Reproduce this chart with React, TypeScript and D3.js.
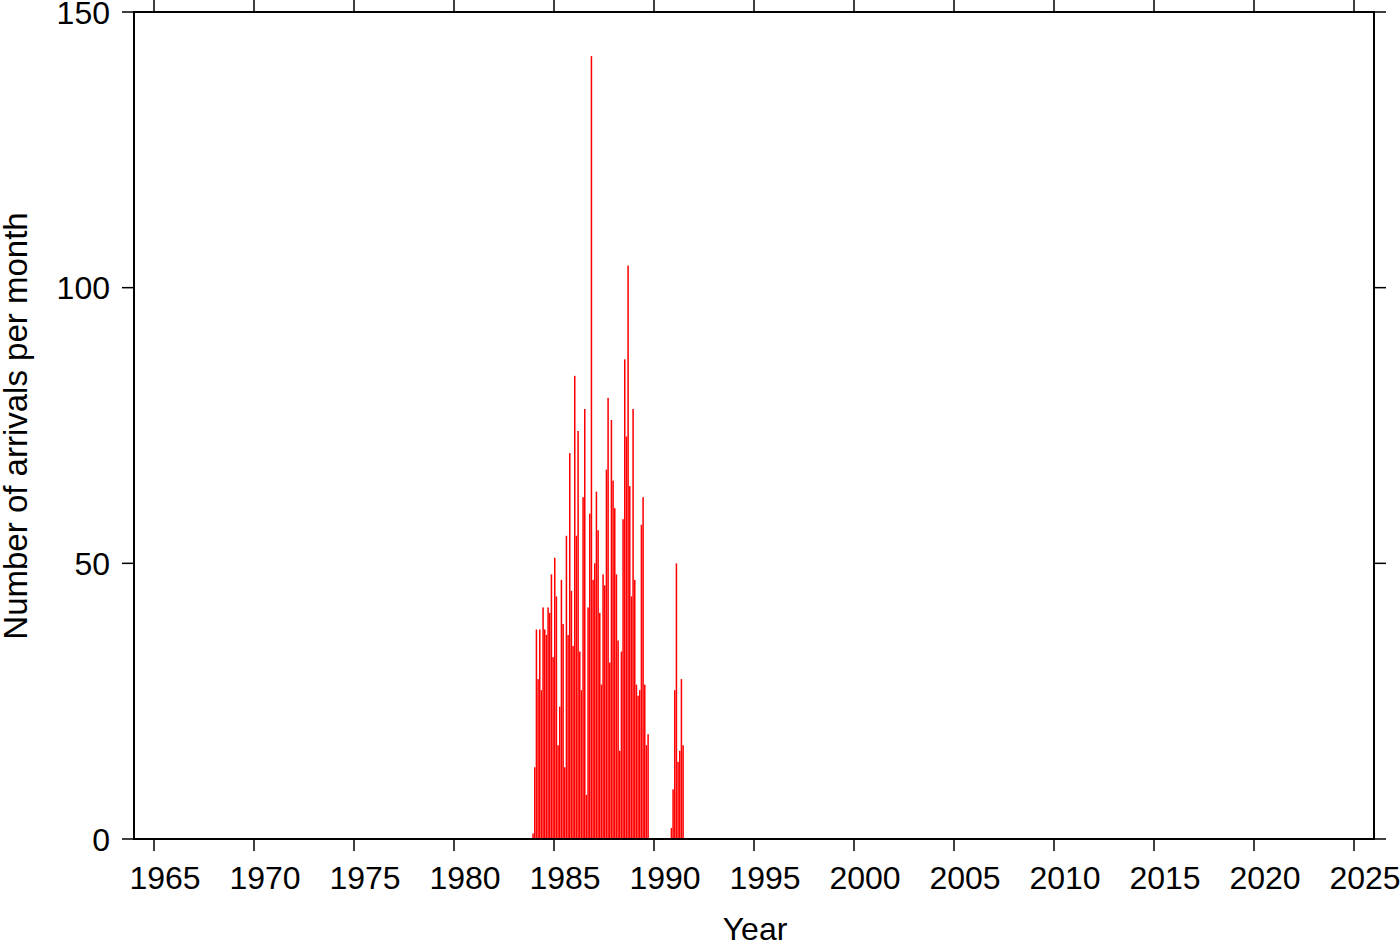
import React, { useEffect } from "react";
import * as d3 from "d3";

// Monthly arrivals, first cluster starting December 1983
const cluster1Start: [number, number] = [1983, 12];
const cluster1Values: number[] = [
  1,
  13, 38, 29, 38, 27, 42, 38, 37, 42, 41, 48, 33,
  51, 44, 17, 24, 47, 39, 13, 55, 37, 70, 45, 35,
  84, 55, 74, 34, 27, 62, 78, 8, 42, 59, 142, 47,
  50, 63, 56, 41, 28, 48, 46, 67, 80, 32, 76, 65,
  60, 48, 36, 16, 34, 58, 87, 73, 104, 64, 44, 78,
  47, 28, 26, 27, 57, 62, 28, 17, 19,
];
// Second cluster starting November 1990
const cluster2Start: [number, number] = [1990, 11];
const cluster2Values: number[] = [2, 9, 27, 50, 14, 16, 29, 17];

const xTicks: number[] = [1965, 1970, 1975, 1980, 1985, 1990, 1995, 2000, 2005, 2010, 2015, 2020, 2025];
const yTicks: number[] = [0, 50, 100, 150];
const xDomain: [number, number] = [1964, 2026];
const yDomain: [number, number] = [0, 150];

const W = 1400;
const H = 942;
const M = { left: 134, right: 1374, top: 12, bottom: 839 };
const FONT = "'Liberation Sans', Arial, Helvetica, sans-serif";

type Bar = { t: number; v: number };

function expand(start: [number, number], vals: number[]): Bar[] {
  return vals.map((v, i) => ({ t: start[0] + (start[1] - 1 + i) / 12, v }));
}

export default function App() {
  useEffect(() => {
    document.body.style.margin = "0";
    document.body.style.overflow = "hidden";
  }, []);

  const x = d3.scaleLinear().domain(xDomain).range([M.left, M.right]);
  const y = d3.scaleLinear().domain(yDomain).range([M.bottom, M.top]);
  const bars = [...expand(cluster1Start, cluster1Values), ...expand(cluster2Start, cluster2Values)];
  const step = x(xDomain[0] + 1 / 12) - x(xDomain[0]);
  const tick = 12;
  const fs = 32;

  return (
    <svg width={W} height={H} style={{ position: "absolute", left: 0, top: 0, background: "#fff" }}>
      <g>
        {bars.filter((b) => b.v > 0).map((b, i) => (
          <rect
            key={i}
            x={x(b.t)}
            y={y(b.v)}
            width={step - 0.15}
            height={y(0) - y(b.v)}
            fill="#ff0000"
          />
        ))}
      </g>
      <rect
        x={M.left}
        y={M.top}
        width={M.right - M.left}
        height={M.bottom - M.top}
        fill="none"
        stroke="#000"
        strokeWidth={2}
      />
      {xTicks.map((t) => (
        <g key={"x" + t}>
          <line x1={x(t)} x2={x(t)} y1={M.bottom} y2={M.bottom + tick} stroke="#000" strokeWidth={1.5} />
          <line x1={x(t)} x2={x(t)} y1={M.top} y2={M.top - tick} stroke="#000" strokeWidth={1.5} />
          <text
            x={x(t) + 11}
            y={889}
            textAnchor="middle"
            fontFamily={FONT}
            fontSize={fs}
            fill="#000"
          >
            {t}
          </text>
        </g>
      ))}
      {yTicks.map((t) => (
        <g key={"y" + t}>
          <line x1={M.left} x2={M.left - tick} y1={y(t)} y2={y(t)} stroke="#000" strokeWidth={1.5} />
          <line x1={M.right} x2={M.right + tick} y1={y(t)} y2={y(t)} stroke="#000" strokeWidth={1.5} />
          <text
            x={110}
            y={y(t) + 11.5}
            textAnchor="end"
            fontFamily={FONT}
            fontSize={fs}
            fill="#000"
          >
            {t}
          </text>
        </g>
      ))}
      <text x={755} y={940} textAnchor="middle" fontFamily={FONT} fontSize={fs} fill="#000">
        Year
      </text>
      <text
        transform={`translate(27, 426) rotate(-90)`}
        textAnchor="middle"
        fontFamily={FONT}
        fontSize={33}
        fill="#000"
      >
        Number of arrivals per month
      </text>
    </svg>
  );
}
